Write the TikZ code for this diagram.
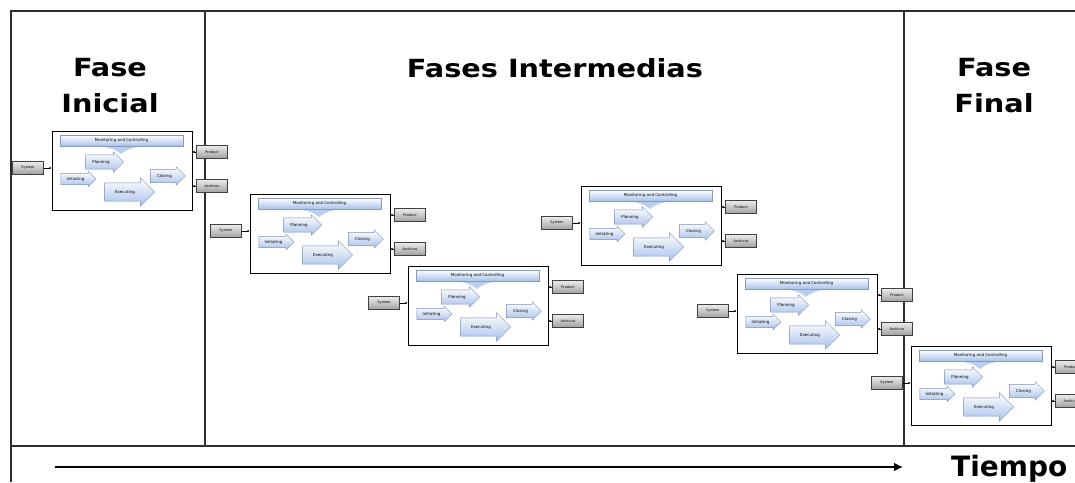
\documentclass[tikz,border=0pt]{standalone}
\usepackage{fontspec}
\usepackage{tikz}
\usetikzlibrary{shapes.arrows,arrows.meta}
\setmainfont{DejaVu Sans}
\newfontfamily\titlefont{DejaVu Sans}[FakeStretch=1.15]

\begin{document}
\begin{tikzpicture}[x=1pt,y=-1pt]
\definecolor{frameGray}{rgb}{0.18,0.18,0.18}
\definecolor{arrBlue}{rgb}{0.66,0.76,0.92}
\tikzstyle{frame} = [draw=frameGray, line width=1.2pt]
\tikzstyle{title} = [font=\titlefont\bfseries\fontsize{25}{36}\selectfont, align=center]
\tikzstyle{procbox} = [draw=black, line width=1pt, fill=white, minimum width=140pt, minimum height=79pt, inner sep=0]
\tikzstyle{graybox} = [draw=gray!50!black, top color=gray!15, bottom color=gray!75, minimum width=31pt, minimum height=13pt, inner sep=0, font=\fontsize{3.5}{4}\selectfont]
\tikzstyle{monbar} = [draw=arrBlue!80!black, top color=white, bottom color=arrBlue, minimum width=123pt, minimum height=11pt, inner sep=0, font=\fontsize{4}{4}\selectfont]
\tikzstyle{bluearr} = [single arrow, draw=arrBlue!75!black, top color=white, bottom color=arrBlue, inner xsep=1pt, font=\fontsize{4}{4}\selectfont]
\tikzstyle{conn} = [draw=black, line width=0.6pt, -{Latex[length=2pt,width=2.5pt]}]

\useasboundingbox[fill=white] (0,0) rectangle (1075,482);
\clip (0,0) rectangle (1075,482);

\draw[frame] (11,482) -- (11,11) -- (1075,11);
\draw[frame] (11,446) -- (1075,446);
\draw[frame] (205,11) -- (205,446);
\draw[frame] (904,11) -- (904,446);

\node[title] (inicial) at (110,86) {Fase\\Inicial};
\node[title] (intermedias) at (555,68) {Fases Intermedias};
\node[title] (final) at (994,86) {Fase\\Final};

\foreach \n/\bx/\by in {1/52/131, 2/250/194, 3/408/266, 4/581/186, 5/737/274, 6/911/346} {
\begin{scope}[shift={(\bx,\by)}]
\node[procbox] (box\n) at (70,39.5) {};
\fill[arrBlue!80] (38,14) .. controls (55,16) and (62,17) .. (69,23) .. controls (76,17) and (83,16) .. (100,14) -- cycle;
\node[monbar] (mon\n) at (69.5,9.5) {Monitoring and Controlling};
\node[bluearr, minimum height=38pt, inner ysep=5pt, single arrow head extend=3pt] (plan\n) at (49,31) {Planning};
\node[bluearr, minimum height=35pt, inner ysep=3.5pt, single arrow head extend=2pt] (init\n) at (23.5,48) {Initiating};
\node[bluearr, minimum height=50pt, inner ysep=7pt, single arrow head extend=5pt] (exec\n) at (73,61) {Executing};
\node[bluearr, minimum height=35pt, inner ysep=4.5pt, single arrow head extend=2.5pt] (clos\n) at (112.5,45) {Closing};
\node[graybox] (sys\n) at (-24,37) {System};
\node[graybox] (prod\n) at (160,21) {Product};
\node[graybox] (arch\n) at (160,55) {Archivos};
\draw[conn] (sys\n.east) -- (sys\n.east -| box\n.west);
\draw[conn] (prod\n.west) -- (prod\n.west -| box\n.east);
\draw[conn] (arch\n.west) -- (arch\n.west -| box\n.east);
\end{scope}
}

\coordinate (tstart) at (55,467);
\node[font=\bfseries\fontsize{28}{30}\selectfont, anchor=base west, inner sep=0] (tiempo) at (951,476) {Tiempo};
\draw[line width=1.8pt, -{Latex[length=9pt,width=9pt]}] (tstart) -- (903,467);

\end{tikzpicture}
\end{document}
